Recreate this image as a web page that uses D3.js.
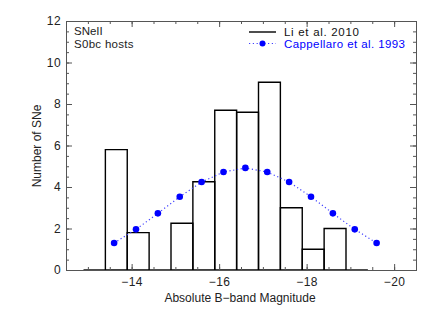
<!DOCTYPE html>
<html>
<head>
<meta charset="utf-8">
<script src="https://cdn.jsdelivr.net/npm/d3@7"></script>
<style>
  body { margin: 0; background: #fff; }
  text { font-family: "Liberation Sans", Arial, sans-serif; }
</style>
</head>
<body>
<div id="viz"></div>
<script>
// histogram bins (Li et al. 2010): left edges, width 0.5 mag
var binEdges = [-12.9, -13.4, -13.9, -14.4, -14.9, -15.4, -15.9, -16.4, -16.9, -17.4, -17.9, -18.4, -18.9];
var binCounts = [0, 5.8, 1.8, 0, 2.25, 4.25, 7.7, 7.6, 9.05, 3.0, 1.0, 2.0, 0];
// Cappellaro et al. 1993
var capMag = [-13.6, -14.1, -14.6, -15.1, -15.6, -16.1, -16.6, -17.1, -17.6, -18.1, -18.6, -19.1, -19.6];
var capVal = [1.3, 1.96, 2.73, 3.53, 4.24, 4.72, 4.92, 4.72, 4.24, 3.53, 2.73, 1.96, 1.3];
var xTicks = [-14, -16, -18, -20];
var yTicks = [0, 2, 4, 6, 8, 10, 12];

var W = 436, H = 312;
var L = 66, R = 416, T = 21, B = 270;

var svg = d3.select("#viz").append("svg")
  .attr("width", W).attr("height", H);

var x = d3.scaleLinear().domain([-12.5, -20.5]).range([L, R]);
var y = d3.scaleLinear().domain([0, 12]).range([B, T]);

// bars
var bw = 0.5;
svg.selectAll("path.bar")
  .data(binEdges)
  .enter().append("path")
  .attr("class", "bar")
  .attr("d", function(d, i) {
    var x0 = x(d), x1 = x(d - bw), y0 = y(0), y1 = y(binCounts[i]);
    if (binCounts[i] === 0) return "M" + x0 + "," + y0 + "H" + x1;
    return "M" + x0 + "," + y0 + "V" + y1 + "H" + x1 + "V" + y0 + "Z";
  })
  .attr("fill", "none")
  .attr("stroke", "#000")
  .attr("stroke-width", 1.4);

// axes
var gray = "#555";
function axis(gen, tr) {
  var g = svg.append("g").attr("transform", tr).call(gen);
  g.select(".domain").attr("stroke", gray);
  g.selectAll("line").attr("stroke", gray);
  g.selectAll("text").attr("fill", "#222").style("font-size", "12px").style("letter-spacing", "0.4px");
  return g;
}
var xMinor = d3.range(-13, -20.6, -0.5);
var yMinor = d3.range(0, 12.01, 0.5);

axis(d3.axisBottom(x).tickValues(xMinor).tickSize(-3).tickFormat(""), "translate(0," + B + ")");
axis(d3.axisTop(x).tickValues(xMinor).tickSize(-3).tickFormat(""), "translate(0," + T + ")");
axis(d3.axisBottom(x).tickValues(xTicks).tickSize(-6).tickPadding(7)
  .tickFormat(function(d) { return "\u2212" + Math.abs(d); }), "translate(0," + B + ")");
axis(d3.axisTop(x).tickValues(xTicks).tickSize(-6).tickFormat(""), "translate(0," + T + ")");

axis(d3.axisLeft(y).tickValues(yMinor).tickSize(-3).tickFormat(""), "translate(" + L + ",0)");
axis(d3.axisRight(y).tickValues(yMinor).tickSize(-3).tickFormat(""), "translate(" + R + ",0)");
axis(d3.axisLeft(y).tickValues(yTicks).tickSize(-6).tickPadding(5).tickFormat(d3.format("d")), "translate(" + L + ",0)");
axis(d3.axisRight(y).tickValues(yTicks).tickSize(-6).tickFormat(""), "translate(" + R + ",0)");

// Cappellaro curve
var line = d3.line().x(function(d, i) { return x(d); }).y(function(d, i) { return y(capVal[i]); });
svg.append("path")
  .attr("d", line(capMag))
  .attr("fill", "none")
  .attr("stroke", "#4040ff")
  .attr("stroke-width", 1.2)
  .attr("stroke-dasharray", "1.2,2.6");
svg.selectAll("circle.cap")
  .data(capMag)
  .enter().append("circle")
  .attr("class", "cap")
  .attr("cx", function(d) { return x(d); })
  .attr("cy", function(d, i) { return y(capVal[i]); })
  .attr("r", 3.3)
  .attr("fill", "#0000ff");

// labels
svg.append("text").attr("x", 240).attr("y", 302).attr("text-anchor", "middle")
  .style("font-size", "12px").attr("fill", "#222").text("Absolute B\u2212band Magnitude");
svg.append("text").attr("transform", "translate(41,146) rotate(-90)").attr("text-anchor", "middle")
  .style("font-size", "12px").attr("fill", "#222").text("Number of SNe");

svg.append("text").attr("x", 74).attr("y", 35).style("font-size", "11.5px").attr("fill", "#222").text("SNeII");
svg.append("text").attr("x", 74).attr("y", 48).style("font-size", "11.5px").style("letter-spacing", "0.3px").attr("fill", "#222").text("S0bc hosts");

// legend
svg.append("line").attr("x1", 249).attr("x2", 276).attr("y1", 32).attr("y2", 32)
  .attr("stroke", "#000").attr("stroke-width", 1.4);
svg.append("text").attr("x", 284).attr("y", 36).style("font-size", "11.5px").style("letter-spacing", "0.7px")
  .attr("fill", "#111").text("Li et al. 2010");
svg.append("line").attr("x1", 249).attr("x2", 276).attr("y1", 43.5).attr("y2", 43.5)
  .attr("stroke", "#4040ff").attr("stroke-width", 1.2).attr("stroke-dasharray", "1.2,2.6");
svg.append("circle").attr("cx", 262.5).attr("cy", 43.5).attr("r", 3).attr("fill", "#0000ff");
svg.append("text").attr("x", 284).attr("y", 48).style("font-size", "11.5px").style("letter-spacing", "0.4px")
  .attr("fill", "#0000ff").text("Cappellaro et al. 1993");
</script>
</body>
</html>
